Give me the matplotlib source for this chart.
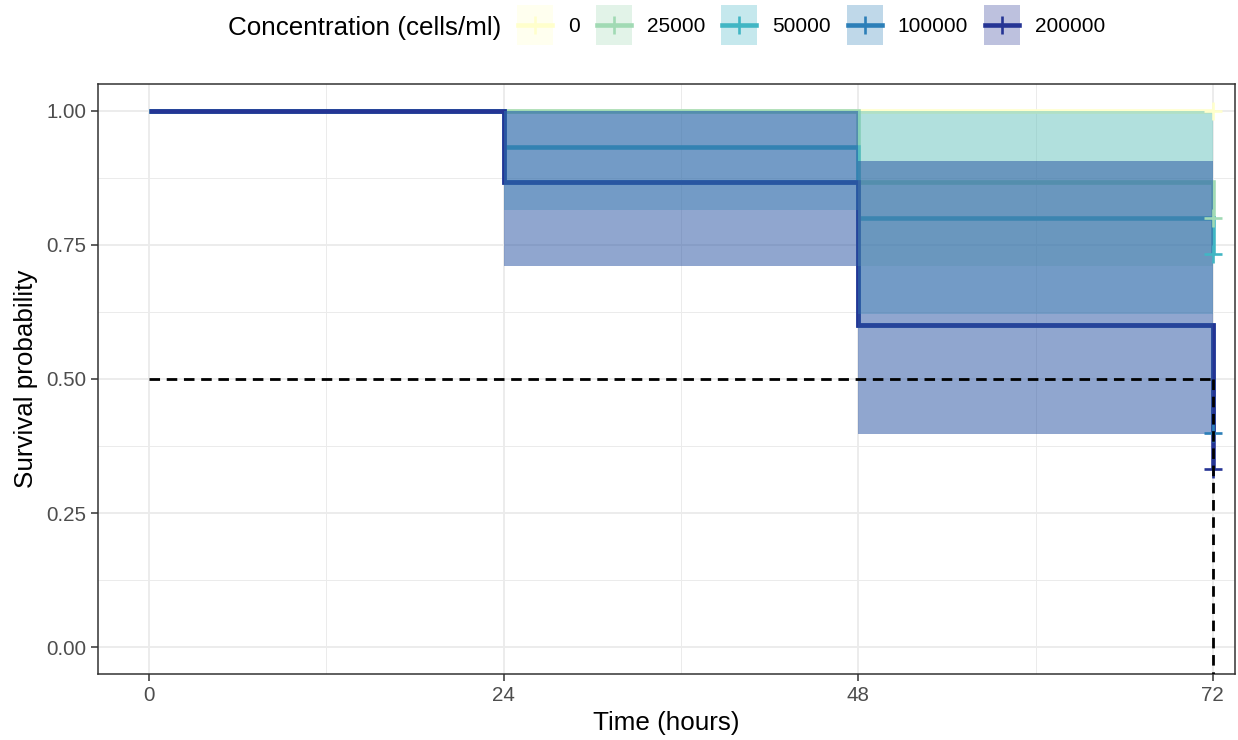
import matplotlib
matplotlib.use("Agg")
import matplotlib.pyplot as plt
from matplotlib.patches import Rectangle
from matplotlib.lines import Line2D

plt.rcParams['font.family'] = ['Liberation Sans', 'DejaVu Sans']

# ---------------- data ----------------
groups = ["0", "25000", "50000", "100000", "200000"]
colors = ["#ffffcc", "#a1dab4", "#41b6c4", "#2c7fb8", "#253494"]
times = [0, 24, 48, 72]

surv_0 = [1.0, 1.0, 1.0, 1.0]
surv_25000 = [1.0, 1.0, 0.867, 0.800]
surv_50000 = [1.0, 0.933, 0.800, 0.733]
surv_100000 = [1.0, 0.867, 0.600, 0.400]
surv_200000 = [1.0, 0.867, 0.600, 0.333]

# confidence limits for the intervals starting at 0, 24, 48 h
lower_0 = [1.0, 1.0, 1.0]
upper_0 = [1.0, 1.0, 1.0]
lower_25000 = [1.0, 1.0, 0.711]
upper_25000 = [1.0, 1.0, 1.0]
lower_50000 = [1.0, 0.815, 0.621]
upper_50000 = [1.0, 1.0, 1.0]
lower_100000 = [1.0, 0.711, 0.397]
upper_100000 = [1.0, 1.0, 0.907]
lower_200000 = [1.0, 0.711, 0.397]
upper_200000 = [1.0, 1.0, 0.907]

median_surv = 0.5
median_time = 72

x_ticks = [0, 24, 48, 72]
x_minor = [12, 36, 60]
y_ticks = [0.0, 0.25, 0.50, 0.75, 1.00]
y_tick_labels = ["0.00", "0.25", "0.50", "0.75", "1.00"]
y_minor = [0.125, 0.375, 0.625, 0.875]

survs = [surv_0, surv_25000, surv_50000, surv_100000, surv_200000]
lowers = [lower_0, lower_25000, lower_50000, lower_100000, lower_200000]
uppers = [upper_0, upper_25000, upper_50000, upper_100000, upper_200000]

# ---------------- figure ----------------
W, H = 1238, 740
fig = plt.figure(figsize=(W / 100, H / 100), dpi=100)
ax = fig.add_axes([98 / W, (H - 674) / H, (1235 - 98) / W, (674 - 84) / H])

ax.set_xlim(-3.45, 73.5)
ax.set_ylim(-0.05, 1.05)

grid_col = "#ebebeb"
for v in x_ticks:
    ax.axvline(v, color=grid_col, lw=1.3, zorder=0)
for v in x_minor:
    ax.axvline(v, color=grid_col, lw=0.7, zorder=0)
for v in y_ticks:
    ax.axhline(v, color=grid_col, lw=1.3, zorder=0)
for v in y_minor:
    ax.axhline(v, color=grid_col, lw=0.7, zorder=0)

LW = 3.3
alpha_band = 0.3
# survival curves (under the ribbons, as in survminer)
for s, c in zip(survs, colors):
    ax.step(times, s, where="post", color=c, lw=LW, zorder=2,
            solid_joinstyle="miter", solid_capstyle="butt")

# confidence ribbons
for lo, up, c in zip(lowers, uppers, colors):
    lo_e = lo + [lo[-1]]
    up_e = up + [up[-1]]
    ax.fill_between(times, lo_e, up_e, step="post", color=c, alpha=alpha_band,
                    lw=0, zorder=3)

# censor marks at last time
for s, c in zip(survs, colors):
    ax.plot([times[-1]], [s[-1]], marker="+", ms=13, mew=1.9, color=c,
            zorder=5, linestyle="none")

# median line
ymin = ax.get_ylim()[0]
ax.plot([0, median_time], [median_surv, median_surv], color="black", lw=2.0,
        dashes=(3.8, 2.4), zorder=6)
ax.plot([median_time, median_time], [median_surv, ymin], color="black", lw=2.0,
        dashes=(3.8, 2.4), zorder=6)

ax.set_xticks(x_ticks)
ax.set_xticklabels([str(t) for t in x_ticks])
ax.set_yticks(y_ticks)
ax.set_yticklabels(y_tick_labels)
ax.tick_params(axis="both", length=4.8, width=1.1, color="#333333",
               labelsize=14.8, labelcolor="#4d4d4d", pad=3.5)
for sp in ax.spines.values():
    sp.set_color("#333333")
    sp.set_linewidth(1.1)

ax.set_xlabel("Time (hours)", fontsize=18.7, labelpad=5)
ax.set_ylabel("Survival probability", fontsize=18.7, labelpad=6)

# ---------------- legend (top) ----------------
def fx(px):
    return px / W

def fy(py):
    return 1 - py / H

renderer = fig.canvas.get_renderer()
yc = 25
fig.text(fx(228), fy(yc), "Concentration (cells/ml)", fontsize=18.7,
         ha="left", va="center_baseline", color="black")

key_w, key_h = 36, 40
x = 517
for g, c in zip(groups, colors):
    fig.add_artist(Rectangle((fx(x), fy(yc + key_h / 2)), fx(key_w), key_h / H,
                             transform=fig.transFigure, facecolor=c,
                             alpha=alpha_band, edgecolor="none"))
    fig.add_artist(Line2D([fx(x + 1), fx(x + key_w - 1)], [fy(yc), fy(yc)],
                          transform=fig.transFigure, color=c, lw=LW))
    fig.add_artist(Line2D([fx(x + key_w / 2)], [fy(yc)], transform=fig.transFigure,
                          color=c, marker="+", ms=13, mew=1.9, linestyle="none"))
    t = fig.text(fx(x + key_w + 15), fy(yc), g, fontsize=15, ha="left",
                 va="center_baseline", color="black")
    bb = t.get_window_extent(renderer=renderer)
    x = bb.x1 + 16

fig.savefig("out.png", dpi=100)
